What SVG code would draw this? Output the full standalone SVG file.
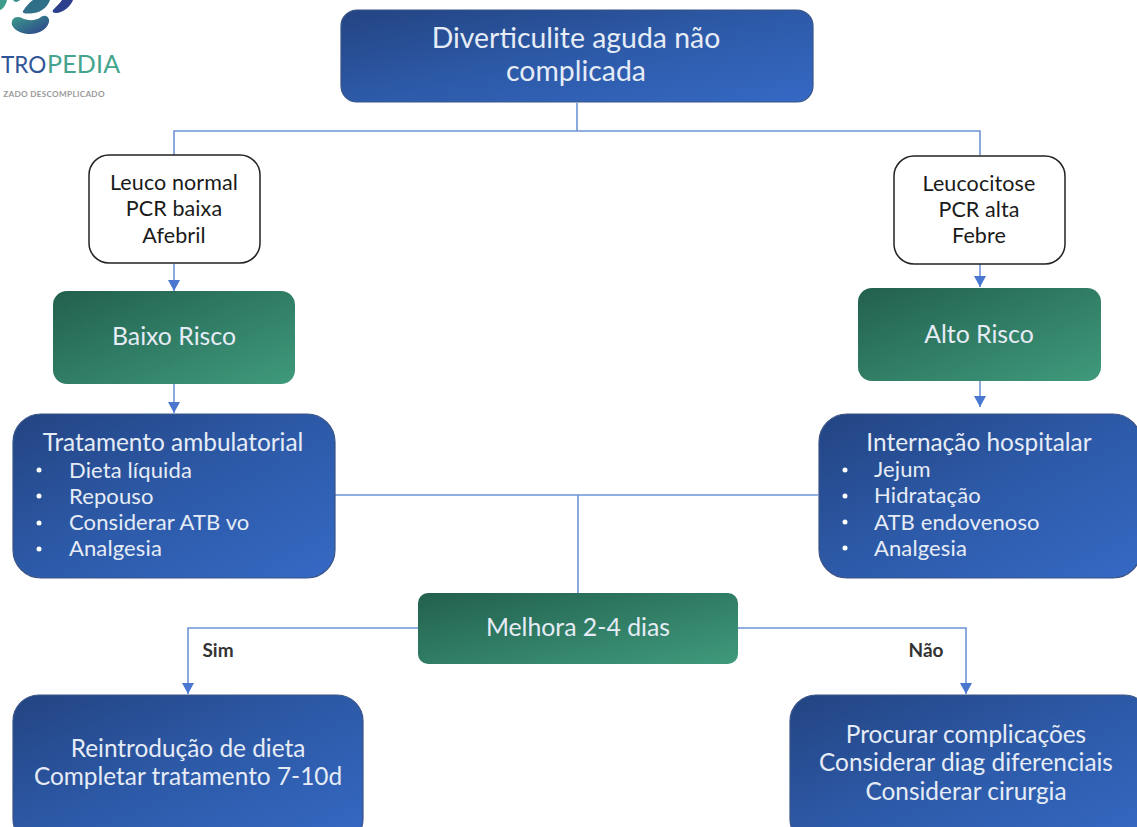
<svg xmlns="http://www.w3.org/2000/svg" width="1137" height="827" viewBox="0 0 1137 827">
<style>
text{font-family:"Lato","Open Sans","Liberation Sans",sans-serif;text-anchor:middle}
.w{fill:#e6ecf6}
.t{font-size:22px;letter-spacing:.12px}
.h{font-size:24.4px}
.g{font-size:24.8px}
.blue{fill:url(#bg);stroke:#3a5488;stroke-width:1.2}
.green{fill:url(#gg)}
.white{fill:#fff;stroke:#222;stroke-width:1.5}
.k{fill:#1a1a1a;font-size:21.5px;letter-spacing:.1px}
.c{fill:none;stroke:#6f93d8;stroke-width:1.6}
.l{text-anchor:start}
.b{fill:#fff}
.y{font-size:19px;font-weight:700;fill:#333}
</style>
<defs>
<linearGradient id="bg" x1="0" y1="0" x2="1" y2="1"><stop offset="0" stop-color="#234482"/><stop offset=".5" stop-color="#2d5aa8"/><stop offset="1" stop-color="#3569c4"/></linearGradient>
<linearGradient id="gg" x1="0" y1="0" x2="1" y2="1"><stop offset="0" stop-color="#22604e"/><stop offset="1" stop-color="#3f9a7c"/></linearGradient>
<linearGradient id="lg" x1="0" y1="0" x2="1" y2="1"><stop offset="0" stop-color="#3d9d8a"/><stop offset="1" stop-color="#2b3f8c"/></linearGradient>
<marker id="a" markerWidth="13" markerHeight="13" refX="11" refY="6" orient="auto" markerUnits="userSpaceOnUse"><path d="M0 0L11 6L0 12Z" fill="#4a78d0"/></marker>
</defs>
<rect width="1137" height="827" fill="#fff"/>
<g id="logo">
<path d="M12 21C13 17 18 16 22 18C27 21 36 21 41 17C45 14 50 17 49 22C47 30 38 34 30 34C20 34 10 28 12 21Z" fill="url(#lg)"/>
<path d="M23 11C26 6 30 2 33 0H50C48 6 42 12 34 13C28 14 22 14 23 11Z" fill="#2f7088"/>
<path d="M53 10C56 7 60 3 62 0H73C71 6 63 13 56 13C53 13 52 12 53 10Z" fill="#2b3f8c"/>
<path d="M0 0H7C6 5 3 9 0 10Z" fill="#3d9d8a"/>
<path d="M13 0H20C18 2 15 3 13 0Z" fill="#3d8f8a"/>
<text class="l" x="1" y="73" font-size="22.5" fill="#2f5597">TRO</text>
<text class="l" x="47" y="73" font-size="25" letter-spacing=".2" fill="#45a58c">PEDIA</text>
<text x="54" y="97" font-size="8.2" letter-spacing=".3" font-weight="700" fill="#999">ZADO DESCOMPLICADO</text>
</g>
<g id="connectors">
<path class="c" d="M577 103V131M174 155V131H980V155"/>
<path class="c" marker-end="url(#a)" d="M174 264V291"/>
<path class="c" marker-end="url(#a)" d="M980 264V287"/>
<path class="c" marker-end="url(#a)" d="M174 384V413"/>
<path class="c" marker-end="url(#a)" d="M980 381V407"/>
<path class="c" d="M335 495H818M578 495V593"/>
<path class="c" marker-end="url(#a)" d="M418 628H188V694"/>
<path class="c" marker-end="url(#a)" d="M738 628H966V694"/>
</g>
<g id="n-top"><rect class="blue" x="341" y="10" width="472" height="92" rx="16"/><text class="w" font-size="28.4" x="576" y="48">Diverticulite aguda não</text><text class="w" font-size="28.4" x="576" y="81">complicada</text></g>
<g id="n-leuco"><rect class="white" x="89" y="155" width="171" height="108" rx="20"/><text class="k" x="174" y="190">Leuco normal</text><text class="k" x="174" y="216">PCR baixa</text><text class="k" x="174" y="243">Afebril</text></g>
<g id="n-leucocitose"><rect class="white" x="894" y="156" width="171" height="108" rx="20"/><text class="k" x="979" y="191">Leucocitose</text><text class="k" x="979" y="217">PCR alta</text><text class="k" x="979" y="243">Febre</text></g>
<g id="n-baixo"><rect class="green" x="53" y="291" width="242" height="93" rx="14"/><text class="w g" x="174" y="345">Baixo Risco</text></g>
<g id="n-alto"><rect class="green" x="858" y="288" width="243" height="93" rx="14"/><text class="w g" x="979" y="343">Alto Risco</text></g>
<g id="n-amb"><rect class="blue" x="13" y="414" width="322" height="164" rx="28"/><text class="w h" x="173" y="451">Tratamento ambulatorial</text>
<circle class="b" cx="39" cy="470" r="2.5"/><circle class="b" cx="39" cy="496" r="2.5"/><circle class="b" cx="39" cy="523" r="2.5"/><circle class="b" cx="39" cy="549" r="2.5"/>
<text class="w l t" x="69" y="478">Dieta líquida</text><text class="w l t" x="69" y="504">Repouso</text><text class="w l t" x="69" y="530" letter-spacing=".25">Considerar ATB vo</text><text class="w l t" x="69" y="556">Analgesia</text></g>
<g id="n-int"><rect class="blue" x="819" y="414" width="322" height="164" rx="28"/><text class="w h" x="979" y="451">Internação hospitalar</text>
<circle class="b" cx="845" cy="470" r="2.5"/><circle class="b" cx="845" cy="496" r="2.5"/><circle class="b" cx="845" cy="522" r="2.5"/><circle class="b" cx="845" cy="548" r="2.5"/>
<text class="w l t" x="874" y="477">Jejum</text><text class="w l t" x="874" y="503">Hidratação</text><text class="w l t" x="874" y="530">ATB endovenoso</text><text class="w l t" x="874" y="556">Analgesia</text></g>
<g id="n-melhora"><rect class="green" x="418" y="593" width="320" height="71" rx="10"/><text class="w g" x="578" y="636">Melhora 2-4 dias</text></g>
<g id="l-sim"><text class="y" x="218" y="657">Sim</text></g>
<g id="l-nao"><text class="y" x="926" y="657">Não</text></g>
<g id="n-re"><rect class="blue" x="13" y="695" width="350" height="150" rx="26"/><text class="w h" x="188" y="757">Reintrodução de dieta</text><text class="w h" x="188" y="785">Completar tratamento 7-10d</text></g>
<g id="n-proc"><rect class="blue" x="790" y="695" width="360" height="150" rx="26"/><text class="w h" x="966" y="743">Procurar complicações</text><text class="w h" x="966" y="771">Considerar diag diferenciais</text><text class="w h" x="966" y="800">Considerar cirurgia</text></g>
</svg>
